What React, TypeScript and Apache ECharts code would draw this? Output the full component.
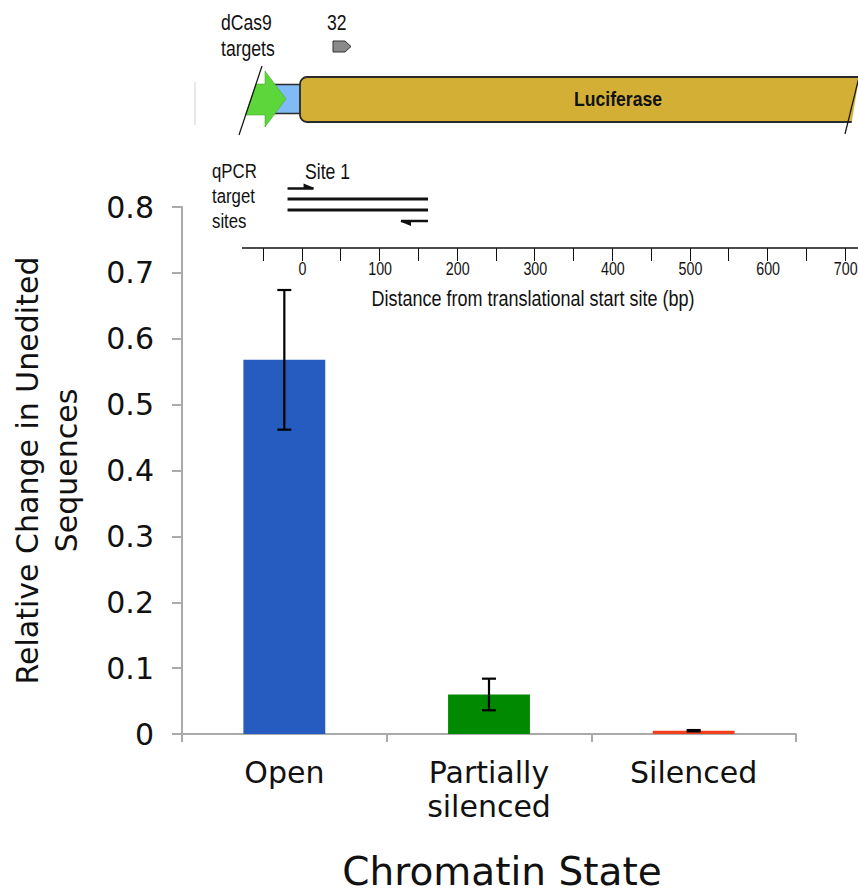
import React, { useEffect, useRef } from "react";
import * as echarts from "echarts";

const categories = ["Open", "Partially\nsilenced", "Silenced"];
const means = [0.568, 0.06, 0.005];
const errors = [0.106, 0.024, 0.001];
const barColors = ["#265BBF", "#018A01", "#F2401F"];
const yMin = 0;
const yMax = 0.8;
const yStep = 0.1;

const rulerTicks = [-50, 0, 50, 100, 150, 200, 250, 300, 350, 400, 450, 500, 550, 600, 650, 700];
const rulerLabels = [0, 100, 200, 300, 400, 500, 600, 700];
const siteStartBp = -18;
const siteEndBp = 163;

const NARROW = "'Liberation Sans', Arial, Helvetica, sans-serif";
const SX = 0.8;

function bpToX(bp: number) {
  return 301.5 + bp * 0.776;
}

function narrowText(text: string, x: number, y: number, size: number, align = "left", bold = false, scale = SX) {
  return {
    type: "text",
    x,
    y,
    scaleX: scale,
    z: 50,
    style: {
      text,
      fontSize: size,
      fontFamily: NARROW,
      fontWeight: bold ? "bold" : "normal",
      fill: "#111",
      align,
      verticalAlign: "middle",
    },
  };
}

function buildDiagram() {
  const els: any[] = [];
  const black = "#111";
  els.push({ type: "line", shape: { x1: 195, y1: 82, x2: 195, y2: 125 }, style: { stroke: "#d0d0d0", lineWidth: 1 } });
  els.push(narrowText("dCas9", 221, 22, 22));
  els.push(narrowText("targets", 221, 48, 22));
  els.push(narrowText("32", 327, 22, 22));
  els.push({
    type: "polygon",
    shape: { points: [[333, 41], [345, 41], [351, 46.5], [345, 52], [333, 52]] },
    style: { fill: "#8a8a8a", stroke: "#333", lineWidth: 1 },
  });
  els.push({
    type: "rect",
    shape: { x: 266, y: 84.5, width: 38, height: 29 },
    style: { fill: "#80BBF5", stroke: "#2a2a2a", lineWidth: 1.5 },
  });
  els.push({
    type: "rect",
    shape: { x: 300, y: 77, width: 570, height: 45, r: [7, 0, 0, 7] },
    style: { fill: "#D3B035", stroke: "#2a2a2a", lineWidth: 1.8 },
  });
  els.push({
    type: "polygon",
    shape: { points: [[851.5, 123.5], [859.5, 75], [870, 75], [870, 124]] },
    style: { fill: "#fff" },
  });
  els.push({ type: "line", shape: { x1: 861, y1: 69, x2: 845, y2: 134 }, style: { stroke: black, lineWidth: 1.2 } });
  els.push(narrowText("Luciferase", 618, 99.5, 20, "center", true, 0.88));
  els.push({
    type: "polygon",
    shape: { points: [[256, 84], [265, 84], [265, 71], [286, 99], [265, 127], [265, 115], [245.3, 115]] },
    style: { fill: "#5CD63B", stroke: "#4aa832", lineWidth: 0.6 },
  });
  els.push({ type: "line", shape: { x1: 262, y1: 66, x2: 239, y2: 135 }, style: { stroke: black, lineWidth: 1.2 } });

  els.push(narrowText("qPCR", 212, 171, 21));
  els.push(narrowText("target", 212, 196, 21));
  els.push(narrowText("sites", 212, 221, 21));
  els.push(narrowText("Site 1", 305, 171, 22));
  const sx1 = bpToX(siteStartBp);
  const sx2 = bpToX(siteEndBp);
  els.push({ type: "line", shape: { x1: sx1, y1: 199, x2: sx2, y2: 199 }, style: { stroke: black, lineWidth: 3 } });
  els.push({ type: "line", shape: { x1: sx1, y1: 210, x2: sx2, y2: 210 }, style: { stroke: black, lineWidth: 3 } });
  els.push({ type: "line", shape: { x1: sx1, y1: 188.5, x2: sx1 + 26, y2: 188.5 }, style: { stroke: black, lineWidth: 2.5 } });
  els.push({ type: "polygon", shape: { points: [[sx1 + 16, 183.5], [sx1 + 27, 188], [sx1 + 16, 189]] }, style: { fill: black } });
  els.push({ type: "line", shape: { x1: sx2 - 27, y1: 221, x2: sx2, y2: 221 }, style: { stroke: black, lineWidth: 2.5 } });
  els.push({ type: "polygon", shape: { points: [[sx2 - 28, 221.5], [sx2 - 17, 220], [sx2 - 17, 226]] }, style: { fill: black } });

  els.push({ type: "line", shape: { x1: 242, y1: 248, x2: 858, y2: 248 }, style: { stroke: black, lineWidth: 1.5 } });
  rulerTicks.forEach((t) => {
    const x = Math.round(bpToX(t)) + 0.5;
    els.push({ type: "line", shape: { x1: x, y1: 248, x2: x, y2: 261 }, style: { stroke: black, lineWidth: 1 } });
  });
  rulerLabels.forEach((t) => {
    els.push(narrowText(String(t), bpToX(t) + 1, 269, 19, "center", false, 0.75));
  });
  els.push(narrowText("Distance from translational start site (bp)", 533, 298, 22.5, "center"));
  return els;
}

export default function App() {
  const ref = useRef<HTMLDivElement>(null);
  useEffect(() => {
    document.body.style.margin = "0";
    if (!ref.current) return;
    const chart = echarts.init(ref.current, null, { renderer: "svg" });
    const FONT = "'DejaVu Sans', Verdana, sans-serif";
    const errData = means.map((m, i) => [i, m - errors[i], m + errors[i]]);
    chart.setOption({
      animation: false,
      backgroundColor: "#ffffff",
      grid: { left: 172, right: 62, top: 207, bottom: 149, containLabel: false },
      xAxis: {
        type: "category",
        data: categories,
        boundaryGap: true,
        axisLine: { show: true, lineStyle: { color: "#AAAAAA", width: 2 } },
        axisTick: { show: true, length: 8, lineStyle: { color: "#AAAAAA", width: 2 } },
        axisLabel: {
          color: "#111",
          fontSize: 30,
          fontFamily: FONT,
          lineHeight: 34,
          margin: 21,
          interval: 0,
        },
        name: "Chromatin State",
        nameLocation: "middle",
        nameGap: 118,
        nameTextStyle: { color: "#111", fontSize: 39, fontFamily: FONT, padding: [0, 0, 0, 26] },
      },
      yAxis: {
        type: "value",
        min: yMin,
        max: yMax,
        interval: yStep,
        splitLine: { show: false },
        axisLine: { show: true, lineStyle: { color: "#AAAAAA", width: 2 } },
        axisTick: { show: true, length: 10, lineStyle: { color: "#AAAAAA", width: 2 } },
        axisLabel: { color: "#111", fontSize: 30, fontFamily: FONT, margin: 28 },
        name: "Relative Change in Unedited\nSequences",
        nameLocation: "middle",
        nameGap: 96,
        nameRotate: 90,
        nameTextStyle: { color: "#111", fontSize: 30, fontFamily: FONT, lineHeight: 39, align: "center" },
      },
      series: [
        {
          type: "bar",
          barWidth: "40%",
          data: means.map((v, i) => ({ value: v, itemStyle: { color: barColors[i] } })),
          z: 2,
        },
        {
          type: "custom",
          z: 5,
          data: errData,
          encode: { x: 0, y: [1, 2] },
          renderItem: (params: any, api: any) => {
            const idx = api.value(0);
            const lo = api.coord([idx, api.value(1)]);
            const hi = api.coord([idx, api.value(2)]);
            const hw = 7;
            const st = { stroke: "#000", lineWidth: 2.2 };
            return {
              type: "group",
              children: [
                { type: "line", shape: { x1: hi[0], y1: hi[1], x2: lo[0], y2: lo[1] }, style: st },
                { type: "line", shape: { x1: hi[0] - hw, y1: hi[1], x2: hi[0] + hw, y2: hi[1] }, style: st },
                { type: "line", shape: { x1: lo[0] - hw, y1: lo[1], x2: lo[0] + hw, y2: lo[1] }, style: st },
              ],
            };
          },
        },
      ],
      graphic: { elements: buildDiagram() },
    });
    return () => chart.dispose();
  }, []);
  return <div ref={ref} style={{ width: 858, height: 896 }} />;
}
